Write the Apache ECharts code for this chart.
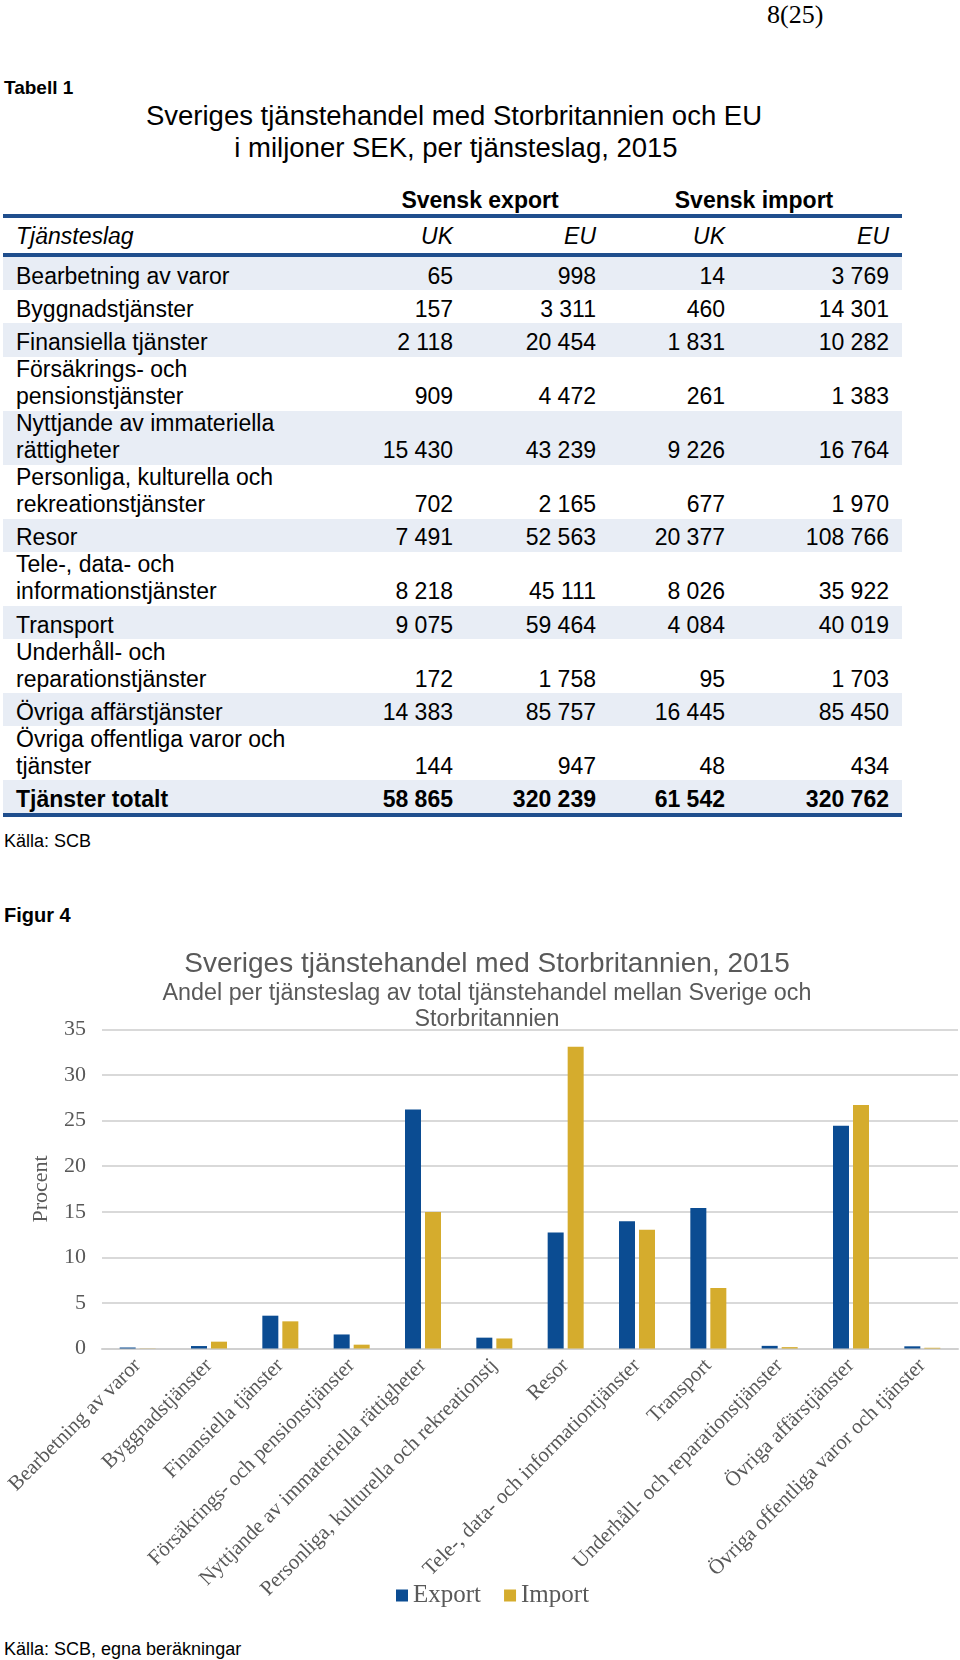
<!DOCTYPE html>
<html>
<head>
<meta charset="utf-8">
<script src="https://cdn.jsdelivr.net/npm/echarts@6/dist/echarts.min.js"></script>
<style>
html,body{margin:0;padding:0;background:#fff;}
body{width:960px;height:1660px;position:relative;overflow:hidden;font-family:"Liberation Sans",Arial,sans-serif;color:#000;}
.abs{position:absolute;white-space:nowrap;}
</style>
</head>
<body>
<div id="page"></div>
<div id="chart" style="position:absolute;left:0;top:900px;width:960px;height:760px;"></div>
<script>
// ---------- Table data (Tabell 1) ----------
const tableTitle = ["Sveriges tjänstehandel med Storbritannien och EU", "i miljoner SEK, per tjänsteslag, 2015"];
const groupHeaders = ["Svensk export", "Svensk import"];
const columnHeaders = ["Tjänsteslag", "UK", "EU", "UK", "EU"];
const tableCategories = [
  ["Bearbetning av varor"],
  ["Byggnadstjänster"],
  ["Finansiella tjänster"],
  ["Försäkrings- och", "pensionstjänster"],
  ["Nyttjande av immateriella", "rättigheter"],
  ["Personliga, kulturella och", "rekreationstjänster"],
  ["Resor"],
  ["Tele-, data- och", "informationstjänster"],
  ["Transport"],
  ["Underhåll- och", "reparationstjänster"],
  ["Övriga affärstjänster"],
  ["Övriga offentliga varor och", "tjänster"]
];
const exportUK = [65, 157, 2118, 909, 15430, 702, 7491, 8218, 9075, 172, 14383, 144];
const exportEU = [998, 3311, 20454, 4472, 43239, 2165, 52563, 45111, 59464, 1758, 85757, 947];
const importUK = [14, 460, 1831, 261, 9226, 677, 20377, 8026, 4084, 95, 16445, 48];
const importEU = [3769, 14301, 10282, 1383, 16764, 1970, 108766, 35922, 40019, 1703, 85450, 434];
const totalLabel = "Tjänster totalt";
const totals = [58865, 320239, 61542, 320762];

// ---------- Chart data (Figur 4) ----------
const chartTitle = "Sveriges tjänstehandel med Storbritannien, 2015";
const chartSubtitle = "Andel per tjänsteslag av total tjänstehandel mellan Sverige och\nStorbritannien";
const chartCategories = [
  "Bearbetning av varor",
  "Byggnadstjänster",
  "Finansiella tjänster",
  "Försäkrings- och pensionstjänster",
  "Nyttjande av immateriella rättigheter",
  "Personliga, kulturella och rekreationstj",
  "Resor",
  "Tele-, data- och informationtjänster",
  "Transport",
  "Underhåll- och reparationstjänster",
  "Övriga affärstjänster",
  "Övriga offentliga varor och tjänster"
];
const exportShare = [0.11, 0.27, 3.60, 1.54, 26.21, 1.19, 12.73, 13.96, 15.42, 0.29, 24.43, 0.24];
const importShare = [0.02, 0.75, 2.98, 0.42, 14.99, 1.10, 33.11, 13.04, 6.64, 0.15, 26.72, 0.08];
const seriesNames = ["Export", "Import"];
const yAxisName = "Procent";
const yMin = 0, yMax = 35, yInterval = 5;

// ---------- Page texts ----------
const pageNumber = "8(25)";
const tableLabel = "Tabell 1";
const tableSource = "Källa: SCB";
const figureLabel = "Figur 4";
const figureSource = "Källa: SCB, egna beräkningar";

// ---------- Build HTML table ----------
const page = document.getElementById('page');
function el(txt, css) {
  const d = document.createElement('div');
  d.className = 'abs';
  d.textContent = txt;
  Object.assign(d.style, css);
  page.appendChild(d);
  return d;
}
function box(css) {
  const d = document.createElement('div');
  d.style.position = 'absolute';
  Object.assign(d.style, css);
  page.appendChild(d);
  return d;
}
function fmt(n) { return String(n).replace(/\B(?=(\d{3})+(?!\d))/g, ' '); }

el(pageNumber, {left:'767px', top:'0px', fontFamily:'"Liberation Serif","Times New Roman",serif', fontSize:'26px', lineHeight:'30px'});
el(tableLabel, {left:'4px', top:'77px', fontSize:'19px', lineHeight:'22px', fontWeight:'bold'});
el(tableTitle[0], {left:'54px', width:'800px', textAlign:'center', top:'100px', fontSize:'27.5px', lineHeight:'32px'});
el(tableTitle[1], {left:'56px', width:'800px', textAlign:'center', top:'132px', fontSize:'27.5px', lineHeight:'32px'});

const FS = '23px', LH = 27;
el(groupHeaders[0], {left:'380px', width:'200px', textAlign:'center', top:(200-LH/2)+'px', fontSize:FS, lineHeight:LH+'px', fontWeight:'bold'});
el(groupHeaders[1], {left:'654px', width:'200px', textAlign:'center', top:(200-LH/2)+'px', fontSize:FS, lineHeight:LH+'px', fontWeight:'bold'});

const lineColor = '#1f4e8d';
const rowBg = '#e8edf5';
box({left:'3px', width:'899px', top:'214px', height:'4px', background:lineColor});
box({left:'3px', width:'899px', top:'253px', height:'4px', background:lineColor});

const colRight = [453, 596, 725, 889];
el(columnHeaders[0], {left:'16px', top:(236-LH/2)+'px', fontSize:FS, lineHeight:LH+'px', fontStyle:'italic'});
for (let c = 1; c < 5; c++) {
  el(columnHeaders[c], {left:(colRight[c-1]-120)+'px', width:'120px', textAlign:'right', top:(236-LH/2)+'px', fontSize:FS, lineHeight:LH+'px', fontStyle:'italic'});
}

const singleH = 33.2, doubleH = 54;
let y = 257;
const allRows = tableCategories.map((lab, i) => ({lab, vals:[exportUK[i], exportEU[i], importUK[i], importEU[i]], bold:false}));
allRows.push({lab:[totalLabel], vals:totals, bold:true});
allRows.forEach((r, i) => {
  const h = r.lab.length > 1 ? doubleH : singleH;
  if (i % 2 === 0) box({left:'3px', width:'899px', top:y+'px', height:h+'px', background:rowBg});
  const bottom = y + h - 0.5;
  r.lab.forEach((t, k) => {
    const lineTop = bottom - LH * (r.lab.length - k);
    el(t, {left:'16px', top:lineTop+'px', fontSize:FS, lineHeight:LH+'px', fontWeight:r.bold?'bold':'normal'});
  });
  r.vals.forEach((v, c) => {
    el(fmt(v), {left:(colRight[c]-160)+'px', width:'160px', textAlign:'right', top:(bottom-LH)+'px', fontSize:FS, lineHeight:LH+'px', fontWeight:r.bold?'bold':'normal'});
  });
  y += h;
});
box({left:'3px', width:'899px', top:y+'px', height:'4px', background:lineColor});

el(tableSource, {left:'4px', top:'830px', fontSize:'18px', lineHeight:'22px'});
el(figureLabel, {left:'4px', top:'904px', fontSize:'20px', lineHeight:'22px', fontWeight:'bold'});
el(figureSource, {left:'4px', top:'1638px', fontSize:'18px', lineHeight:'22px'});

// ---------- Chart ----------
const gray = '#595959';
const serif = '"Liberation Serif","Times New Roman",serif';
const sans = '"Liberation Sans",Arial,sans-serif';
const chart = echarts.init(document.getElementById('chart'), null, {renderer:'canvas'});
chart.setOption({
  animation: false,
  title: {
    text: chartTitle,
    subtext: chartSubtitle,
    left: 482,
    top: 42,
    textAlign: 'center',
    itemGap: 0,
    textStyle: {fontFamily: sans, fontSize: 28, fontWeight: 'normal', color: gray, lineHeight: 34},
    subtextStyle: {fontFamily: sans, fontSize: 23.3, color: gray, lineHeight: 26}
  },
  legend: {
    data: seriesNames,
    left: 391,
    top: 678,
    icon: 'rect',
    itemWidth: 12,
    itemHeight: 12,
    itemGap: 23,
    textStyle: {fontFamily: serif, fontSize: 25, color: gray}
  },
  grid: {left: 102, right: 2, top: 129.5, height: 319, containLabel: false},
  xAxis: {
    type: 'category',
    data: chartCategories,
    axisTick: {show: false},
    axisLine: {lineStyle: {color: '#d0d0d0', width: 2}},
    axisLabel: {rotate: 45, interval: 0, fontFamily: serif, fontSize: 21, color: gray, margin: 14}
  },
  yAxis: {
    type: 'value',
    min: yMin, max: yMax, interval: yInterval,
    name: yAxisName,
    nameLocation: 'middle',
    nameGap: 50,
    nameRotate: 90,
    nameTextStyle: {fontFamily: serif, fontSize: 22, color: gray},
    axisLine: {show: false},
    axisTick: {show: false},
    axisLabel: {fontFamily: serif, fontSize: 22, color: gray, margin: 16},
    splitLine: {lineStyle: {color: '#d9d9d9', width: 2}}
  },
  series: [
    {name: seriesNames[0], type: 'bar', data: exportShare, barWidth: 16, barGap: '25%', itemStyle: {color: '#0b4c92'}},
    {name: seriesNames[1], type: 'bar', data: importShare, barWidth: 16, barGap: '25%', itemStyle: {color: '#d5ac2d'}}
  ]
});
</script>
</body>
</html>
